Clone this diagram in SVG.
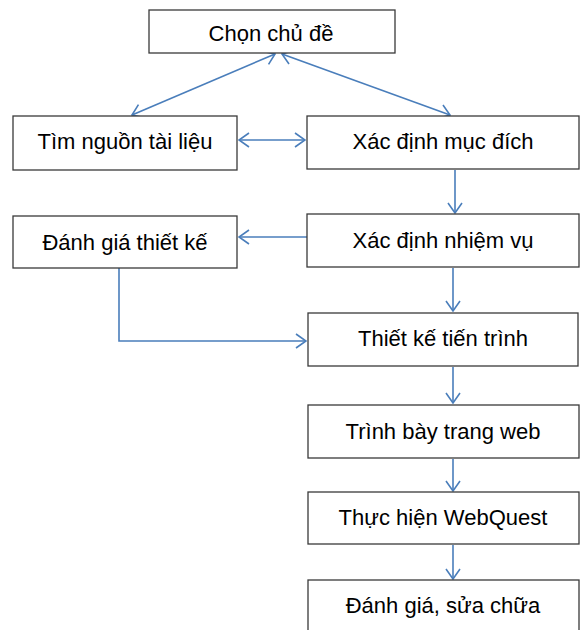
<svg xmlns="http://www.w3.org/2000/svg" width="580" height="630" viewBox="0 0 580 630">
<style>
.box{fill:#fff;stroke:#3a3a3a;stroke-width:1.3}
.lbl{font-family:"Liberation Sans",Arial,sans-serif;font-size:22px;fill:#000;text-anchor:middle;dominant-baseline:central}
.con{fill:none;stroke:#4a7ebb;stroke-width:1.6}
</style>
<defs>
<marker id="ah" viewBox="0 0 12 16" refX="11" refY="8" markerWidth="12" markerHeight="16" markerUnits="userSpaceOnUse" orient="auto-start-reverse">
<path d="M1,1 L11,8 L1,15" fill="none" stroke="#4a7ebb" stroke-width="1.6"/>
</marker>
</defs>
<rect width="580" height="630" fill="#fff"/>
<g id="connectors">
<line class="con" x1="275" y1="54" x2="132" y2="115" marker-start="url(#ah)" marker-end="url(#ah)"/>
<line class="con" x1="282" y1="54" x2="450" y2="115" marker-start="url(#ah)" marker-end="url(#ah)"/>
<line class="con" x1="239" y1="140" x2="305" y2="140" marker-start="url(#ah)" marker-end="url(#ah)"/>
<line class="con" x1="455" y1="170" x2="455" y2="213" marker-end="url(#ah)"/>
<line class="con" x1="307" y1="237" x2="239" y2="237" marker-end="url(#ah)"/>
<polyline class="con" points="119,268 119,341 306,341" marker-end="url(#ah)"/>
<line class="con" x1="453" y1="268" x2="453" y2="311" marker-end="url(#ah)"/>
<line class="con" x1="453" y1="367" x2="453" y2="403" marker-end="url(#ah)"/>
<line class="con" x1="453" y1="459" x2="453" y2="491" marker-end="url(#ah)"/>
<line class="con" x1="453" y1="545" x2="453" y2="579" marker-end="url(#ah)"/>
</g>
<g id="chon-chu-de"><rect class="box" x="149" y="10" width="246" height="43"/><text class="lbl" x="271" y="33">Chọn chủ đề</text></g>
<g id="tim-nguon"><rect class="box" x="13" y="116" width="224" height="54"/><text class="lbl" x="125" y="141">Tìm nguồn tài liệu</text></g>
<g id="muc-dich"><rect class="box" x="307" y="116" width="272" height="53"/><text class="lbl" x="443" y="141">Xác định mục đích</text></g>
<g id="danh-gia-thiet-ke"><rect class="box" x="13" y="216" width="224" height="52"/><text class="lbl" x="125" y="242">Đánh giá thiết kế</text></g>
<g id="nhiem-vu"><rect class="box" x="307" y="214" width="272" height="53"/><text class="lbl" x="443" y="240">Xác định nhiệm vụ</text></g>
<g id="tien-trinh"><rect class="box" x="308" y="313" width="270" height="53"/><text class="lbl" x="443" y="338">Thiết kế tiến trình</text></g>
<g id="trinh-bay"><rect class="box" x="308" y="405" width="271" height="53"/><text class="lbl" x="443" y="431">Trình bày trang web</text></g>
<g id="thuc-hien"><rect class="box" x="308" y="492" width="271" height="52"/><text class="lbl" x="443" y="517">Thực hiện WebQuest</text></g>
<g id="sua-chua"><rect class="box" x="308" y="580" width="271" height="60"/><text class="lbl" x="443" y="605">Đánh giá, sửa chữa</text></g>
</svg>
